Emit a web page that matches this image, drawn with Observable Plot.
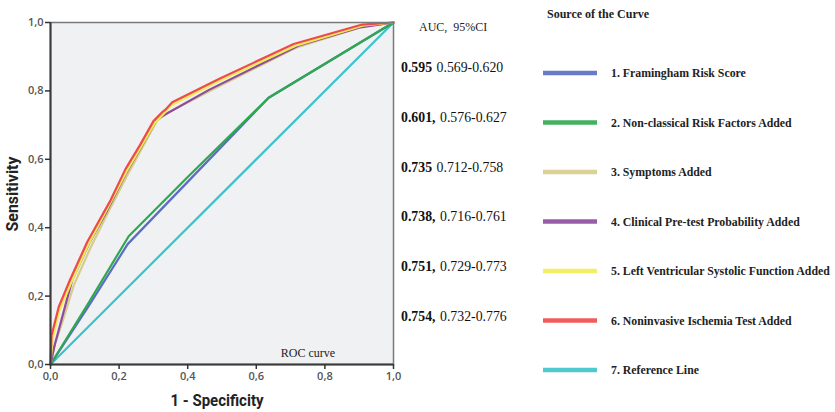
<!DOCTYPE html>
<html>
<head>
<meta charset="utf-8">
<script src="https://cdn.jsdelivr.net/npm/d3@7"></script>
<script src="https://cdn.jsdelivr.net/npm/@observablehq/plot@0.6"></script>
<style>
  html, body { margin: 0; padding: 0; background: #fff; }
</style>
</head>
<body>
<div id="chart"></div>
<script>
// ---- Data (1 - specificity, sensitivity) ----
const framingham = [[0,0],[0.112,0.172],[0.225,0.352],[0.40,0.534],[0.636,0.78],[1,1]];
const nonClassical = [[0,0],[0.112,0.182],[0.228,0.375],[0.40,0.548],[0.636,0.78],[1,1]];
const symptoms = [[0,0],[0.01,0.05],[0.035,0.125],[0.068,0.232],[0.116,0.34],[0.168,0.445],[0.223,0.552],[0.31,0.712],[0.34,0.735],[0.5,0.818],[0.72,0.928],[0.91,0.988],[1,1]];
const clinical = [[0,0],[0.013,0.06],[0.034,0.138],[0.063,0.246],[0.112,0.353],[0.165,0.45],[0.219,0.557],[0.311,0.718],[0.462,0.803],[0.724,0.933],[0.904,0.986],[1,1]];
const lvFunction = [[0,0],[0.005,0.07],[0.025,0.155],[0.062,0.243],[0.11,0.35],[0.165,0.455],[0.222,0.565],[0.305,0.708],[0.33,0.733],[0.352,0.758],[0.49,0.828],[0.715,0.932],[0.91,0.991],[1,1]];
const ischemia = [[0,0],[0.003,0.085],[0.024,0.168],[0.058,0.25],[0.107,0.358],[0.175,0.48],[0.219,0.572],[0.26,0.64],[0.301,0.713],[0.326,0.738],[0.335,0.745],[0.355,0.767],[0.491,0.835],[0.709,0.937],[0.909,0.994],[1,1]];
const referenceLine = [[0,0],[1,1]];

const seriesNames = [
  "1. Framingham Risk Score",
  "2. Non-classical Risk Factors Added",
  "3. Symptoms Added",
  "4. Clinical Pre-test Probability Added",
  "5. Left Ventricular Systolic Function Added",
  "6. Noninvasive Ischemia Test Added",
  "7. Reference Line"
];
const seriesData = [framingham, nonClassical, symptoms, clinical, lvFunction, ischemia, referenceLine];
const seriesColors = ["#5a6cc4", "#2fa84f", "#d6cc8c", "#8e4a9e", "#f2ec55", "#ee4a4a", "#3cc3c9"];
const drawOrder = [6, 0, 1, 2, 3, 4, 5];

const aucValues = ["0.595", "0.601", "0.735", "0.738", "0.751", "0.754"];
const aucSeparators = ["", ",", "", ",", ",", ","];
const ciLow = ["0.569", "0.576", "0.712", "0.716", "0.729", "0.732"];
const ciHigh = ["0.620", "0.627", "0.758", "0.761", "0.773", "0.776"];

const axisTicks = [0, 0.2, 0.4, 0.6, 0.8, 1.0];
const tickFmt = d => d.toFixed(1).replace(".", ",");

// ---- Plot ----
const table = [];
drawOrder.forEach(i => seriesData[i].forEach(([fpr, tpr]) => table.push({series: seriesNames[i], fpr, tpr})));

const svg = Plot.plot({
  width: 835,
  height: 412,
  marginLeft: 50,
  marginRight: 442,
  marginTop: 22,
  marginBottom: 48,
  x: {domain: [0, 1]},
  y: {domain: [0, 1]},
  color: {domain: seriesNames, range: seriesColors},
  style: {fontFamily: "'Open Sans', sans-serif", background: "#fff", overflow: "visible"},
  marks: [
    Plot.frame({fill: "#eff1f3", stroke: null}),
    ...drawOrder.map(i => Plot.line(table.filter(d => d.series === seriesNames[i]), {
      x: "fpr", y: "tpr", stroke: "series", strokeWidth: 2.2, curve: "linear"
    })),
    Plot.frame({stroke: "#7a7a7a", strokeWidth: 1.5}),
    Plot.ruleX([0], {stroke: "#3a3a3a", strokeWidth: 2}),
    Plot.ruleY([0], {stroke: "#3a3a3a", strokeWidth: 2}),
    Plot.axisX({ticks: axisTicks, tickFormat: tickFmt, tickSize: 5, tickPadding: 3, label: null,
      fontSize: 11, fill: "#555", stroke: "#333", strokeWidth: 1.5}),
    Plot.axisY({ticks: axisTicks, tickFormat: tickFmt, tickSize: 5, tickPadding: 2, label: null,
      fontSize: 11, fill: "#555", stroke: "#333", strokeWidth: 1.5}),
    Plot.text(["ROC curve"], {frameAnchor: "bottom", dx: 86, dy: -8, fontSize: 12,
      fontFamily: "'Liberation Serif', serif", fill: "#222"})
  ]
});

const s = d3.select(svg);
s.selectAll("g[aria-label='x-axis tick label'] text, g[aria-label='y-axis tick label'] text")
  .attr("font-weight", 600);

// axis titles
s.append("text").text("1 - Specificity")
  .attr("x", 217).attr("y", 406).attr("text-anchor", "middle")
  .attr("font-family", "Roboto, sans-serif").attr("font-weight", 700).attr("font-size", 16)
  .attr("textLength", 93).attr("lengthAdjust", "spacingAndGlyphs").attr("fill", "#222");
s.append("text").text("Sensitivity")
  .attr("transform", "translate(18,194) rotate(-90)").attr("text-anchor", "middle")
  .attr("font-family", "Roboto, sans-serif").attr("font-weight", 700).attr("font-size", 16)
  .attr("textLength", 75).attr("lengthAdjust", "spacingAndGlyphs").attr("fill", "#222");

const serif = "'Liberation Serif', 'Times New Roman', serif";

// AUC column
s.append("text").text("AUC,  95%CI").attr("x", 419).attr("y", 31).attr("text-anchor", "start")
  .attr("font-family", serif).attr("font-size", 12).attr("fill", "#222")
  .style("white-space", "pre");
aucValues.forEach((v, i) => {
  const t = s.append("text").attr("x", 401).attr("y", 72 + i * 49.8).attr("text-anchor", "start")
    .attr("font-family", serif).attr("font-size", 13.8).attr("fill", "#111");
  t.append("tspan").attr("font-weight", 700).text(v + aucSeparators[i]);
  t.append("tspan").attr("dx", 4.5).text(ciLow[i] + "-" + ciHigh[i]);
});

// Legend
s.append("text").text("Source of the Curve").attr("x", 547).attr("y", 18).attr("text-anchor", "start")
  .attr("font-family", serif).attr("font-weight", 700).attr("font-size", 12).attr("fill", "#222");
seriesNames.forEach((name, i) => {
  const y = 73 + i * 49.5;
  s.append("line").attr("x1", 543).attr("x2", 597).attr("y1", y).attr("y2", y)
    .attr("stroke", seriesColors[i]).attr("stroke-width", 4.5).attr("stroke-opacity", 0.9);
  s.append("g").attr("transform", `translate(611,${y + 4}) scale(0.875,1)`)
    .append("text").text(name).attr("x", 0).attr("y", 0).attr("text-anchor", "start")
    .attr("font-family", serif).attr("font-weight", 700).attr("font-size", 13.5).attr("fill", "#222");
});

document.getElementById("chart").appendChild(svg);
</script>
</body>
</html>
